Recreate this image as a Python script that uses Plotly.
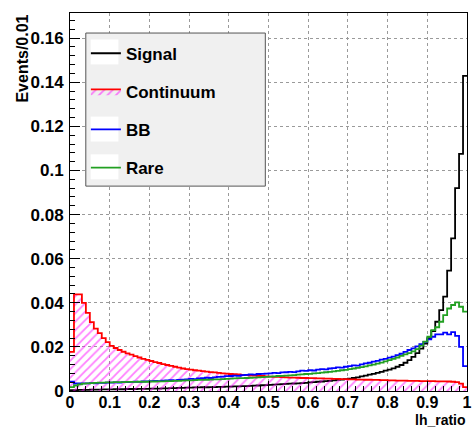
import numpy as np
import plotly.graph_objects as go

# Histogram binning: 100 bins on [0, 1]
n_bins = 100
x_lo, x_hi = 0.0, 1.0

signal = [
    0.0004, 0.0004, 0.0005, 0.0005, 0.0005, 0.0006, 0.0006, 0.0006, 0.0007, 0.0007,
    0.0007, 0.0008, 0.0008, 0.0008, 0.0009, 0.0009, 0.0009, 0.0010, 0.0010, 0.0010,
    0.0011, 0.0011, 0.0011, 0.0012, 0.0012, 0.0013, 0.0013, 0.0014, 0.0014, 0.0015,
    0.0015, 0.0016, 0.0016, 0.0017, 0.0017, 0.0018, 0.0018, 0.0019, 0.0019, 0.0020,
    0.0020, 0.0021, 0.0021, 0.0022, 0.0022, 0.0023, 0.0024, 0.0025, 0.0026, 0.0027,
    0.0028, 0.0029, 0.0030, 0.0031, 0.0032, 0.0033, 0.0034, 0.0035, 0.0036, 0.0037,
    0.0039, 0.0040, 0.0042, 0.0043, 0.0045, 0.0046, 0.0048, 0.0050, 0.0052, 0.0054,
    0.0056, 0.0059, 0.0062, 0.0066, 0.0070, 0.0074, 0.0078, 0.0082, 0.0087, 0.0092,
    0.0097, 0.0103, 0.0110, 0.0118, 0.0128, 0.0140, 0.0155, 0.0172, 0.0192, 0.0215,
    0.0240, 0.0272, 0.0314, 0.0367, 0.0428, 0.0546, 0.0692, 0.0920, 0.1075, 0.1429,
]

continuum = [
    0.0177, 0.0438, 0.0438, 0.0400, 0.0354, 0.0312, 0.0283, 0.0262, 0.0240, 0.0222,
    0.0205, 0.0195, 0.0186, 0.0178, 0.0171, 0.0165, 0.0158, 0.0152, 0.0146, 0.0141,
    0.0136, 0.0131, 0.0127, 0.0122, 0.0118, 0.0114, 0.0110, 0.0106, 0.0102, 0.0099,
    0.0097, 0.0094, 0.0092, 0.0090, 0.0088, 0.0086, 0.0084, 0.0082, 0.0080, 0.0079,
    0.0077, 0.0076, 0.0075, 0.0073, 0.0072, 0.0071, 0.0070, 0.0069, 0.0068, 0.0066,
    0.0065, 0.0064, 0.0064, 0.0063, 0.0062, 0.0061, 0.0061, 0.0060, 0.0059, 0.0059,
    0.0058, 0.0058, 0.0057, 0.0057, 0.0056, 0.0056, 0.0055, 0.0055, 0.0054, 0.0054,
    0.0053, 0.0053, 0.0052, 0.0052, 0.0051, 0.0051, 0.0050, 0.0050, 0.0049, 0.0049,
    0.0048, 0.0048, 0.0047, 0.0047, 0.0047, 0.0046, 0.0046, 0.0046, 0.0045, 0.0045,
    0.0045, 0.0045, 0.0044, 0.0044, 0.0044, 0.0043, 0.0042, 0.0040, 0.0033, 0.0018,
]

bb = [
    0.0042, 0.0034, 0.0034, 0.0035, 0.0035, 0.0036, 0.0035, 0.0037, 0.0037, 0.0038,
    0.0038, 0.0039, 0.0038, 0.0040, 0.0040, 0.0041, 0.0042, 0.0041, 0.0043, 0.0044,
    0.0045, 0.0046, 0.0045, 0.0047, 0.0048, 0.0049, 0.0048, 0.0050, 0.0052, 0.0053,
    0.0055, 0.0054, 0.0057, 0.0058, 0.0060, 0.0059, 0.0062, 0.0064, 0.0065, 0.0067,
    0.0068, 0.0070, 0.0069, 0.0072, 0.0073, 0.0075, 0.0074, 0.0077, 0.0078, 0.0079,
    0.0080, 0.0082, 0.0081, 0.0084, 0.0085, 0.0087, 0.0086, 0.0089, 0.0092, 0.0091,
    0.0094, 0.0093, 0.0097, 0.0099, 0.0098, 0.0102, 0.0104, 0.0107, 0.0106, 0.0110,
    0.0113, 0.0116, 0.0115, 0.0121, 0.0125, 0.0128, 0.0133, 0.0137, 0.0142, 0.0146,
    0.0151, 0.0156, 0.0163, 0.0169, 0.0177, 0.0186, 0.0193, 0.0202, 0.0212, 0.0223,
    0.0234, 0.0246, 0.0257, 0.0257, 0.0265, 0.0257, 0.0267, 0.0250, 0.0200, 0.0113,
]

rare = [
    0.0018, 0.0025, 0.0030, 0.0033, 0.0035, 0.0036, 0.0037, 0.0038, 0.0038, 0.0039,
    0.0039, 0.0040, 0.0040, 0.0040, 0.0041, 0.0041, 0.0041, 0.0042, 0.0042, 0.0042,
    0.0043, 0.0043, 0.0044, 0.0044, 0.0045, 0.0045, 0.0046, 0.0046, 0.0047, 0.0048,
    0.0048, 0.0049, 0.0050, 0.0050, 0.0051, 0.0052, 0.0053, 0.0053, 0.0054, 0.0055,
    0.0056, 0.0057, 0.0058, 0.0058, 0.0059, 0.0060, 0.0061, 0.0062, 0.0063, 0.0064,
    0.0065, 0.0066, 0.0068, 0.0069, 0.0070, 0.0071, 0.0072, 0.0074, 0.0075, 0.0077,
    0.0078, 0.0080, 0.0081, 0.0083, 0.0085, 0.0087, 0.0089, 0.0091, 0.0094, 0.0096,
    0.0099, 0.0102, 0.0105, 0.0108, 0.0112, 0.0116, 0.0120, 0.0124, 0.0129, 0.0134,
    0.0140, 0.0146, 0.0152, 0.0159, 0.0166, 0.0172, 0.0180, 0.0190, 0.0206, 0.0224,
    0.0246, 0.0276, 0.0289, 0.0314, 0.0344, 0.0374, 0.0390, 0.0402, 0.0382, 0.0360,
]

series_names = ["Signal", "Continuum", "BB", "Rare"]
series_colors = ["#000000", "#ff0000", "#0000ff", "#22a022"]

FONT = "Liberation Sans, Arial, Helvetica, sans-serif"

edges = np.linspace(x_lo, x_hi, n_bins + 1)


def step_xy(values):
    """Outline of a histogram: left edges plus the closing right edge."""
    v = list(values)
    xs = list(edges)
    ys = v + [v[-1]]
    return xs, ys


fig = go.Figure()

for name, vals, col in zip(series_names, [signal, continuum, bb, rare], series_colors):
    xs, ys = step_xy(vals)
    kw = dict(
        x=xs, y=ys, mode="lines", name=name,
        line=dict(color=col, width=1.8, shape="hv"),
        legendgroup=name,
    )
    if name == "Continuum":
        kw.update(
            fill="tozeroy",
            fillcolor="rgba(0,0,0,0)",
            fillpattern=dict(shape="/", fgcolor="#ff00ff", bgcolor="rgba(0,0,0,0)",
                             size=6, solidity=0.3),
        )
    fig.add_trace(go.Scatter(**kw))

axis_common = dict(
    showline=True, linecolor="#000000", linewidth=1, mirror=True,
    ticks="inside", tickcolor="#000000", tickwidth=1,
    showgrid=True, gridcolor="#9a9a9a", gridwidth=1, griddash="dot",
    zeroline=False,
    ticklabeloverflow="allow",
)

fig.update_xaxes(
    range=[x_lo, x_hi], dtick=0.1, tick0=0, ticklen=10,
    minor=dict(dtick=0.02, ticklen=5, ticks="inside", tickcolor="#000000", showgrid=False),
    ticklabelstandoff=-3,
    tickfont=dict(family=FONT, size=16, color="#000000", weight="bold"),
    **axis_common,
)
fig.update_yaxes(
    range=[0, 0.1714], dtick=0.02, tick0=0, ticklen=10,
    minor=dict(dtick=0.004, ticklen=5, ticks="inside", tickcolor="#000000", showgrid=False),
    ticklabelstandoff=2,
    tickfont=dict(family=FONT, size=17, color="#000000", weight="bold"),
    **axis_common,
)

# Legend frame and the white sample boxes behind the line entries
legend_shapes = [
    dict(type="rect", xref="paper", yref="paper", x0=0.0398, x1=0.492, y0=0.542, y1=0.947,
         fillcolor="#f0f0f0", line=dict(color="#555555", width=1), layer="above"),
]
for yc in (0.897, 0.693, 0.593):
    legend_shapes.append(
        dict(type="rect", xref="paper", yref="paper", x0=0.052, x1=0.122,
             y0=yc - 0.033, y1=yc + 0.033, fillcolor="#ffffff",
             line=dict(width=0), layer="above")
    )

fig.update_layout(
    width=475, height=429,
    margin=dict(l=70, r=3, t=13, b=38),
    paper_bgcolor="#ffffff", plot_bgcolor="#ffffff",
    showlegend=True,
    legend=dict(
        x=0.04, y=0.94, xanchor="left", yanchor="top",
        bgcolor="rgba(0,0,0,0)", borderwidth=0,
        font=dict(family=FONT, size=17, color="#000000", weight="bold"),
        tracegroupgap=13, itemwidth=30,
        traceorder="grouped",
    ),
    shapes=legend_shapes,
    annotations=[
        dict(text="Events/0.01", xref="paper", yref="paper", x=-0.122, y=1.0,
             xanchor="center", yanchor="top", textangle=-90, showarrow=False,
             font=dict(family=FONT, size=16, color="#000000", weight="bold")),
        dict(text="lh_ratio", xref="paper", yref="paper", x=1.0, y=-0.1003,
             xanchor="right", yanchor="bottom", showarrow=False, borderpad=0,
             font=dict(family=FONT, size=14, color="#000000", weight="bold")),
    ],
)

fig.write_html("out.html")
